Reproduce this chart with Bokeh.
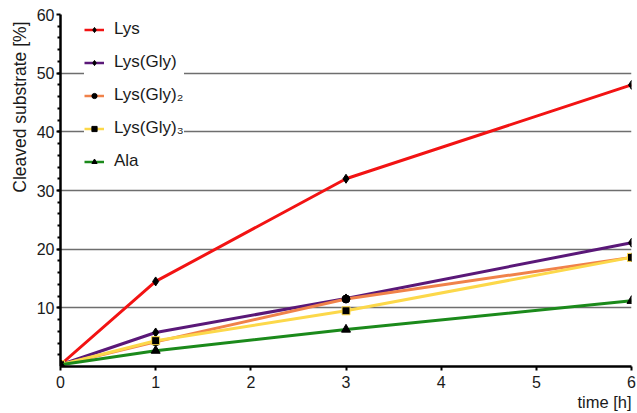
import math
from bokeh.plotting import figure
from bokeh.models import (Range1d, FixedTicker, Legend, LegendItem, Title)
from bokeh.embed import file_html
from bokeh.resources import INLINE

hours = [0, 1, 3, 6]
series_names = ["Lys", "Lys(Gly)", "Lys(Gly)\u2082", "Lys(Gly)\u2083", "Ala"]
lys = [0.3, 14.5, 32.0, 48.0]
lys_gly = [0.3, 5.8, 11.6, 21.1]
lys_gly2 = [0.3, 4.2, 11.5, 18.6]
lys_gly3 = [0.3, 4.4, 9.5, 18.6]
ala = [0.3, 2.7, 6.3, 11.2]
series_values = [lys, lys_gly, lys_gly2, lys_gly3, ala]
colors = ["#f21313", "#5a1878", "#f0824a", "#fcd84a", "#1b8a1b"]
markers = ["diamond", "diamond", "circle", "square", "triangle"]
marker_sizes = [9, 9, 8, 8, 9]
x_ticks = [0, 1, 2, 3, 4, 5, 6]
y_ticks = [10, 20, 30, 40, 50, 60]
y_minor = [v for v in range(2, 60, 2)]

FONT = "Liberation Sans"
NAN = float("nan")

p = figure(width=637, height=413, output_backend="svg", toolbar_location=None,
           x_range=Range1d(0, 6), y_range=Range1d(0, 60),
           min_border_left=60, min_border_right=6, min_border_top=14,
           min_border_bottom=47)
p.outline_line_color = None
p.background_fill_color = "white"
p.border_fill_color = "white"

# grid
p.xgrid.grid_line_color = None
p.ygrid.ticker = FixedTicker(ticks=y_ticks)
p.ygrid.grid_line_color = "#6e6e6e"
p.ygrid.grid_line_width = 1.5

# axes
p.xaxis.ticker = FixedTicker(ticks=x_ticks)
p.yaxis.ticker = FixedTicker(ticks=y_ticks, minor_ticks=y_minor)
for ax in (p.xaxis[0], p.yaxis[0]):
    ax.axis_line_color = "black"
    ax.axis_line_width = 2.5
    ax.major_tick_line_color = "black"
    ax.major_tick_line_width = 2
    ax.major_tick_in = 0
    ax.major_label_text_font = FONT
    ax.major_label_text_font_size = "16px"
    ax.major_label_text_color = "#1a1a1a"
p.xaxis.major_tick_out = 4
p.xaxis.minor_tick_line_color = None
p.xaxis.major_label_standoff = 5
p.yaxis.major_tick_out = 4
p.yaxis.minor_tick_out = 3
p.yaxis.minor_tick_in = 0
p.yaxis.minor_tick_line_color = "black"
p.yaxis.minor_tick_line_width = 2
p.yaxis.major_label_standoff = 2

items = []
for name, vals, col, mk, ms in zip(series_names, series_values, colors, markers, marker_sizes):
    p.line(hours, vals, line_color=col, line_width=3)
    p.scatter(hours, vals, marker=mk, size=ms, fill_color="black",
              line_color="black" if mk != "square" else col, line_width=1)
    # legend-only glyphs (smaller markers, as in the reference key)
    lr = p.line(x=[NAN], y=[NAN], line_color=col, line_width=2.5)
    ls = p.scatter(x=[NAN], y=[NAN], marker=mk, size=5, fill_color="black",
                   line_color="black")
    items.append(LegendItem(label=name, renderers=[lr, ls]))

legend = Legend(items=items, location=(24, 195), padding=2, spacing=13,
                glyph_height=13, glyph_width=20, label_height=20,
                label_standoff=10, label_text_font=FONT,
                label_text_font_size="17px", label_text_color="#1a1a1a",
                background_fill_color="white", background_fill_alpha=1.0,
                border_line_color=None, margin=0)
p.add_layout(legend, "center")

ytitle = Title(text="Cleaved substrate [%]", align="right", offset=7,
               text_font=FONT, text_font_size="17.5px", text_font_style="normal",
               text_color="#1a1a1a", standoff=8)
p.add_layout(ytitle, "left")
xtitle = Title(text="time [h]", align="right", offset=0,
               text_font=FONT, text_font_size="16.5px", text_font_style="normal",
               text_color="#1a1a1a", standoff=0)
p.add_layout(xtitle, "below")

open("out.html", "w").write(file_html(p, INLINE))
